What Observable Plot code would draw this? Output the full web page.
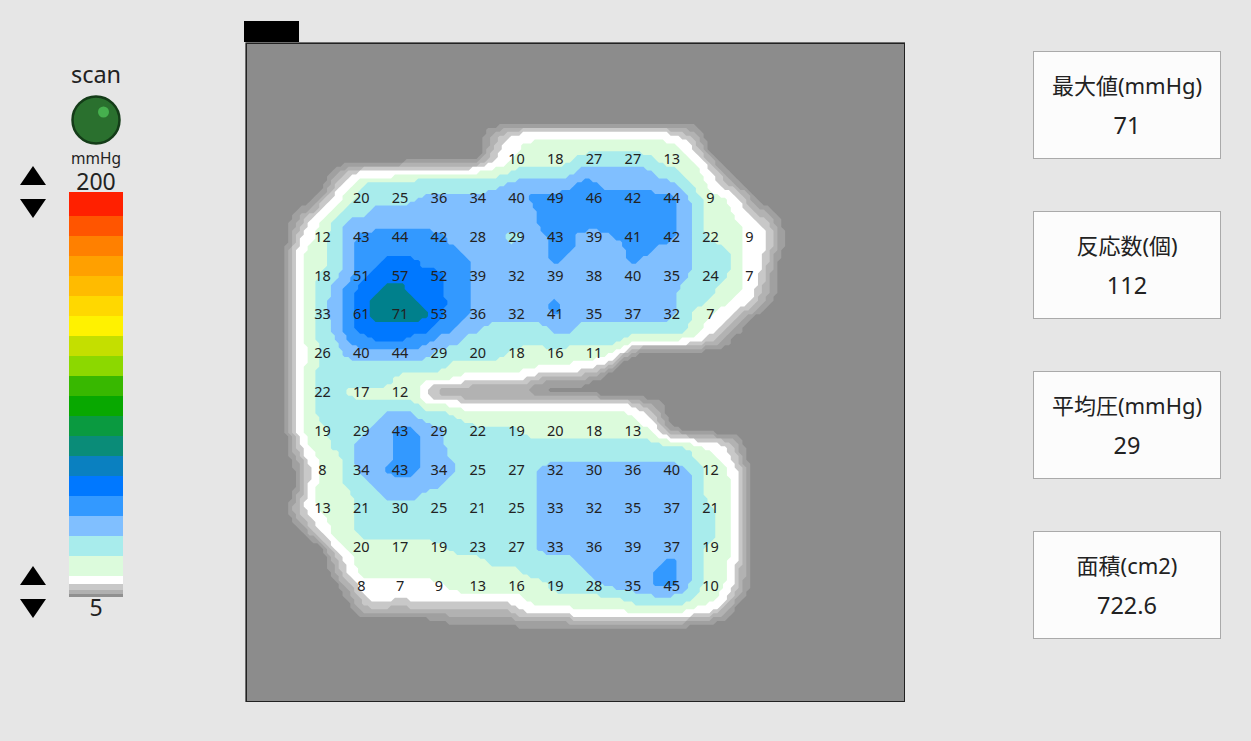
<!DOCTYPE html>
<html lang="ja">
<head>
<meta charset="utf-8">
<script src="https://cdn.jsdelivr.net/npm/d3@7"></script>
<script src="https://cdn.jsdelivr.net/npm/@observablehq/plot@0.6"></script>
<style>
html,body{margin:0;padding:0;background:#e6e6e6;}
#page{position:relative;width:1251px;height:741px;overflow:hidden;background:#e6e6e6;
  font-family:"Noto Sans","Noto Sans CJK JP",sans-serif;color:#222;}
.abs{position:absolute;}
.lbl{position:absolute;transform:translateX(-50%);white-space:nowrap;text-align:center;line-height:1;}
.box{position:absolute;left:1033px;width:186px;height:106px;border:1px solid #aaa;background:#fcfcfc;}
.box .t{position:absolute;left:0;right:0;top:20px;text-align:center;font-size:22px;line-height:26px;}
.box .v{position:absolute;left:0;right:0;top:60px;text-align:center;font-size:23.5px;line-height:26px;}
.tri{position:absolute;width:0;height:0;border-left:13.5px solid transparent;border-right:13.5px solid transparent;}
.up{border-bottom:19px solid #000;}
.down{border-top:19px solid #000;}
svg{background:transparent;display:block;}
</style>
</head>
<body>
<div id="page"></div>
<script>
// Sensor readings (mmHg), one array per row of the mat
const rowStart = [5,1,0,0,0,0,0,0,0,0,1,1];
const row0  = [10,18,27,27,13];
const row1  = [20,25,36,34,40,49,46,42,44,9];
const row2  = [12,43,44,42,28,29,43,39,41,42,22,9];
const row3  = [18,51,57,52,39,32,39,38,40,35,24,7];
const row4  = [33,61,71,53,36,32,41,35,37,32,7];
const row5  = [26,40,44,29,20,18,16,11];
const row6  = [22,17,12];
const row7  = [19,29,43,29,22,19,20,18,13];
const row8  = [8,34,43,34,25,27,32,30,36,40,12];
const row9  = [13,21,30,25,21,25,33,32,35,37,21];
const row10 = [20,17,19,23,27,33,36,39,37,19];
const row11 = [8,7,9,13,16,19,28,35,45,10];

// Colour band at every third of a sensor step (0 = background ... a = top band)
const bandRows = [
"0000000000000000000000000000000000000000",
"0000000000000000000000000000000000000000",
"0000000000000000 23 4444444444444 32 0000000",
"0000000000000000 2 44 555555555555 4 3 0000000",
"0000000000000000 34 55555 666666 555 4 2 000000",
"0000 23 4444 55555555 66666 777777 66 55 4 2 00000",
"0000 34 66666666666 777777 88 777777 6 5 4 3 2 0000",
"000 2 4 5 66666 77777777 888888888888 7 6 5 5 4 2 000",
"0 1 2 4 5 6 6 7777777777777 88888888888 7 6 5 5 4 3 2 1 0",
"0 2 4 5 6 777777777777777 88888888888 7 6 5 5 5 4 4 2 0",
"0 3 4 5 6 7 8888888 7777 66 77 88 777 88888 7 6 5 5 5 4 4 3 0",
"0 4 5 5 6 7 88888888 7777777 88 7777 88 777 666 5 4 4 2 0",
"0 4 5 5 6 7 88 999 8888 777777 8 77777 8 7777 666 5 4 4 1 0",
"0 4 5 6 6 7 8 999999 88 77777777777777777 666 5 4 3 1 0",
"0 4 5 6 7 8 99 aa 999 88 7777777777777777 666 55 4 3 1 0",
"0 4 5 6 7 8 9 aaaa 99 88 777777 8 777777777 66 55 44 2 1 0",
"0 4 5 6 7 8 9 aaaaa 9 88 777777 8 777777777 6 55 4 3 2 000",
"0 4 5 6 7 8 999999 88 77 66666 77 666666666 5 4 3 2 0000",
"0 4 5 66 88 999 88 77 6666666666666 55555 4 3 2 00000",
"0 44 66 7777777 666666 55555555 4 1 000000000000",
"0 4 5 6666666666 5555555555 44 3 00000000000000",
"0 4 5 666666 55555 44444 3 2222 1 000000000000000",
"0 4 5 66 555555 3 11111111 00000000000000000000",
"0 4 5 66666666 555 44444444444444 22 0000000000",
"0 4 5 66666 777 666 55555555555555 4 2 0000000000",
"0 4 55 666 77 88 77 666666 5555555555 4 1 000000000",
"0 3 55 66 777 88 77 6666666666666666666 5 44 2 0000",
"0 2 4 55 6 777 88 77 6666666666666666666 55 4 3 0000",
"0 1 3 55 6 77 888 777 666666 777777777777 6 55 4 1 000",
"0 1 4 55 66 777777 6666666 777777777777 6 55 4 1 000",
"0 1 4 555 66 777 666666666 777777777777 6 55 4 1 000",
"0 3 4 555 66666666666666 777777777777 66 5 4 1 000",
"0 1 3 4 55 66666666666666 777777777777 66 5 4 1 000",
"00 2 4 55 66666666666666 777777777777 66 5 4 1 000",
"0000 4 55555555 6666666 777777777777 6 55 4 1 000",
"0000 2 4 5555555555 6666666 7777777 8 7 6 55 4 1 000",
"0000 2 4 5555555555555 66666 77777 88 7 6 55 3 1 000",
"00000 2 4444444 55555555 6666 7777 88 7 6 55 3 1 000",
"00000 1 3 44 3 444444444 55555555 66666 55 4 2 0000",
"000000 222222222222 3 4444 555555555 44 2 00000",
"0000000000000 1111111111111111111 00000000",
"0000000000000000000000000000000000000000"
];

// Colour bands used by the map: thresholds on the band number, then colours
const bandEdges  = [1,1.8,2.6,3.4,4.5,5.5,6.5,7.5,8.5,9.5];
const bandColors = ["#8c8c8c","#a0a0a0","#b2b2b2","#c8c8c8","#ffffff","#dcfbdc","#a8ecec","#80bfff","#3399ff","#0078ff","#00808c"];

// Scale bar, top to bottom
const legendColors = ["#ff2000","#ff5500","#ff8000","#ffa000","#ffbb00","#ffd800","#fff200","#c4df00","#8cd800","#38b800","#08a800","#0a9a40","#0a8c78","#0a80c0","#0078ff","#3399ff","#80bfff","#a8ecec","#dcfbdc","#ffffff","#c8c8c8","#b0b0b0","#909090"];
const legendSpans  = [24,20,20,20,20,20,20,20,20,20,20,20,20,20,20,20,20,20,20,8,6,4,3];

const stats = [
  ["最大値(mmHg)","71"],
  ["反応数(個)","112"],
  ["平均圧(mmHg)","29"],
  ["面積(cm2)","722.6"]
];

const page = document.getElementById("page");
const rows = [row0,row1,row2,row3,row4,row5,row6,row7,row8,row9,row10,row11];
const readings = rows.flatMap((r,j)=>r.map((value,i)=>({col:i+rowStart[j],row:j,value})));
const samples = bandRows.flatMap((s,r)=>{
  const t=s.replace(/ /g,"").padEnd(40,"0").slice(0,40);
  return Array.from(t,(c,k)=>({u:-1+k/3,v:-1+(r-1)/3,level:parseInt(c,16)}));
});

const map = Plot.plot({
  width:660,height:660,margin:0,
  x:{domain:[-77/38.8,583/38.8],range:[0,660],axis:null},
  y:{domain:[-117/38.8,543/38.8],range:[0,660],axis:null},
  color:{type:"threshold",domain:bandEdges,range:bandColors},
  marks:[
    Plot.frame({fill:bandColors[0]}),
    Plot.contour(samples,{x:"u",y:"v",fill:"level",interpolate:"barycentric",thresholds:bandEdges,pixelSize:660/170,blur:1,smooth:false,stroke:"none"}),
    Plot.text(readings,{x:"col",y:"row",text:"value",fontSize:14.5,fill:"#222",fontFamily:"'Noto Sans',sans-serif"}),
    Plot.frame({stroke:"#222",strokeWidth:1.5,inset:0.75})
  ]
});
map.style.cssText="position:absolute;left:245px;top:42px;";
page.appendChild(map);

let acc=0;
const legendBands = legendColors.map((color,i)=>{const b={color,y1:acc,y2:acc+legendSpans[i]};acc+=legendSpans[i];return b;});
const bar = Plot.plot({
  width:54,height:405,margin:0,
  x:{domain:[0,1],range:[0,54],axis:null},
  y:{domain:[0,acc],range:[0,405],axis:null},
  color:{type:"identity"},
  marks:[Plot.rect(legendBands,{x1:0,x2:1,y1:"y1",y2:"y2",fill:"color"})]
});
bar.style.cssText="position:absolute;left:69px;top:192px;";
page.appendChild(bar);

function add(html){page.insertAdjacentHTML("beforeend",html);}
add('<div class="abs" style="left:244px;top:21px;width:55px;height:21px;background:#000"></div>');
add('<div class="lbl" style="left:96px;top:63px;font-size:23.5px">scan</div>');
add('<svg class="abs" style="left:70px;top:94px" width="52" height="52"><circle cx="26" cy="26" r="23.5" fill="#2a702e" stroke="#143c18" stroke-width="2.5"/><circle cx="33.5" cy="18" r="5.5" fill="#46b04e"/></svg>');
add('<div class="lbl" style="left:96px;top:151px;font-size:15.5px;line-height:15px">mmHg</div>');
add('<div class="lbl" style="left:96px;top:171px;font-size:23px;line-height:21px">200</div>');
add('<div class="lbl" style="left:96px;top:596px;font-size:23px">5</div>');
add('<div class="tri up" style="left:19.5px;top:166px"></div>');
add('<div class="tri down" style="left:19.5px;top:199px"></div>');
add('<div class="tri up" style="left:19.5px;top:566px"></div>');
add('<div class="tri down" style="left:19.5px;top:599px"></div>');
stats.forEach(([t,v],i)=>add(`<div class="box" style="top:${51+160*i}px"><div class="t">${t}</div><div class="v">${v}</div></div>`));
</script>
</body>
</html>
